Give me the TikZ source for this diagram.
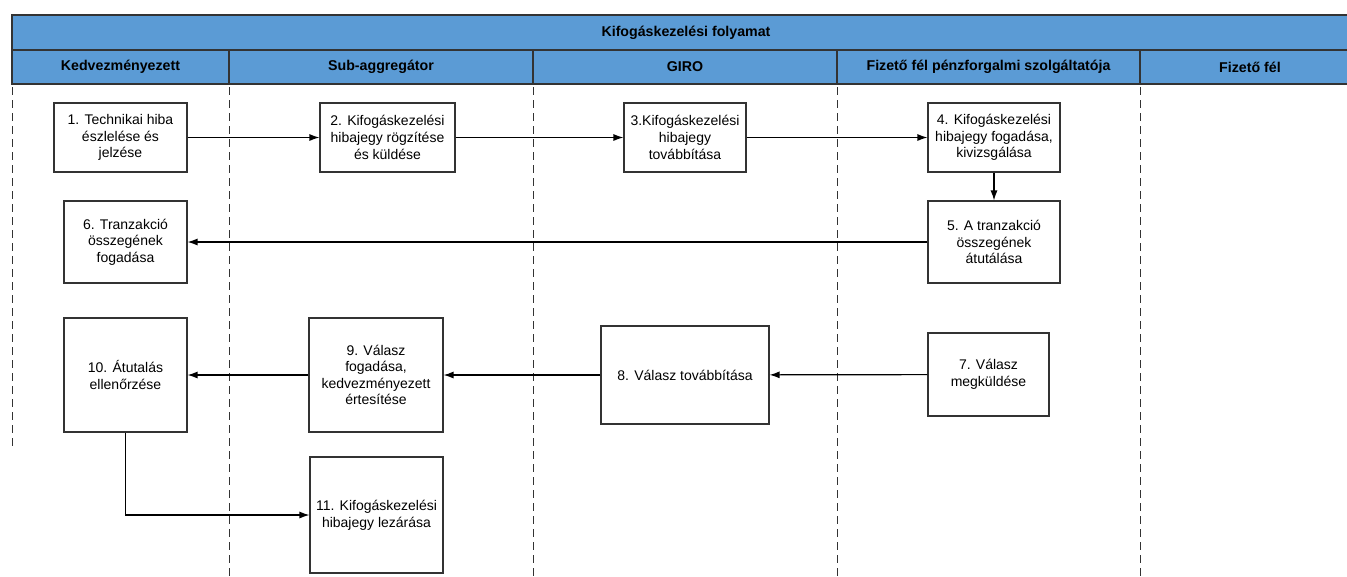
\documentclass[tikz,border=0pt]{standalone}
\usepackage{fontspec}
\setmainfont{Liberation Sans}
\usetikzlibrary{arrows.meta}
\definecolor{hdr}{HTML}{5B9BD5}
\definecolor{edge}{HTML}{333333}
\begin{document}
\begin{tikzpicture}[x=1pt,y=-1pt,
  box/.style={draw=edge,line width=1.1pt,fill=white,align=center,inner sep=2pt,
    font=\fontsize{14}{16.6}\selectfont},
  hdrtext/.style={font=\fontsize{14.2}{16}\selectfont\bfseries,text=black},
  lane/.style={draw=black!80,line width=0.9pt,dash pattern=on 8pt off 5pt},
  conn/.style={draw=black,line width=1.2pt,-{Latex[length=10pt,width=7pt]}}]
\useasboundingbox (0,0) rectangle (1347,576);
% header
\fill[hdr] (12,15) rectangle (1362,84);
\draw[edge,line width=1.6pt] (1362,15) -- (12,15) -- (12,84) -- (1362,84);
\draw[edge,line width=1.6pt] (12,50) -- (1362,50);
\foreach \x in {229,533,837,1140}{\draw[edge,line width=1.6pt] (\x,50) -- (\x,84);}
\node[hdrtext] (title) at (686,32.5) {Kifogáskezelési folyamat};
\node[hdrtext] (h1) at (120.5,67) {Kedvezményezett};
\node[hdrtext] (h2) at (381,67) {Sub-aggregátor};
\node[hdrtext] (h3) at (685,67) {GIRO};
\node[hdrtext] (h4) at (988.5,67) {Fizető fél pénzforgalmi szolgáltatója};
\node[hdrtext] (h5) at (1250,67) {Fizető fél};
% lane lines
\draw[lane] (12,87) -- (12,449);
\foreach \x in {229,533,837,1140}{\draw[lane] (\x,87) -- (\x,576);}
% boxes
\node[box,minimum width=133pt,minimum height=69pt] (b1) at (120.5,137.5) {1. Technikai hiba\\észlelése és\\jelzése};
\node[box,minimum width=135pt,minimum height=69pt] (b2) at (387.5,137.5) {2. Kifogáskezelési\\hibajegy rögzítése\\és küldése};
\node[box,minimum width=122pt,minimum height=69pt] (b3) at (685,137.5) {3.Kifogáskezelési\\hibajegy\\továbbítása};
\node[box,minimum width=132pt,minimum height=69pt] (b4) at (994,137.5) {4. Kifogáskezelési\\hibajegy fogadása,\\kivizsgálása};
\node[box,minimum width=132pt,minimum height=82pt] (b5) at (994,242) {5. A tranzakció\\összegének\\átutálása};
\node[box,minimum width=123pt,minimum height=82pt] (b6) at (125.5,242) {6. Tranzakció\\összegének\\fogadása};
\node[box,minimum width=121pt,minimum height=83pt] (b7) at (988.5,374.5) {7. Válasz\\megküldése};
\node[box,minimum width=168pt,minimum height=98pt] (b8) at (685,375) {8. Válasz továbbítása};
\node[box,minimum width=134pt,minimum height=114pt] (b9) at (376,375) {9. Válasz\\fogadása,\\kedvezményezett\\értesítése};
\node[box,minimum width=123pt,minimum height=114pt] (b10) at (125.5,375) {10. Átutalás\\ellenőrzése};
\node[box,minimum width=133pt,minimum height=116pt] (b11) at (376.5,515) {11. Kifogáskezelési\\hibajegy lezárása};
% connectors
\draw[conn] (b1) -- (b2);
\draw[conn] (b2) -- (b3);
\draw[conn] (b3) -- (b4);
\draw[conn] (b4) -- (b5);
\draw[conn] (b5) -- (b6);
\draw[conn] (b7) -- (b8);
\draw[conn] (b8) -- (b9);
\draw[conn] (b9) -- (b10);
\draw[conn] (b10.south) |- (b11.west);
\end{tikzpicture}
\end{document}
